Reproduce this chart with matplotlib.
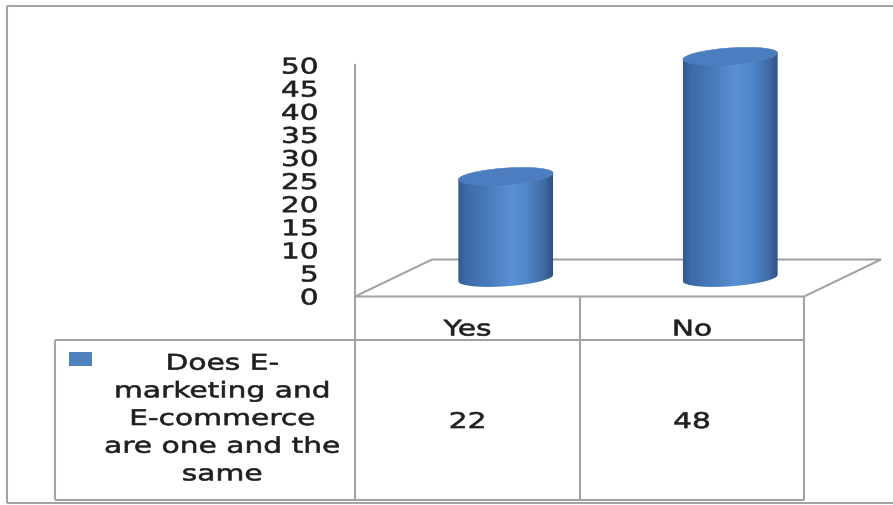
import numpy as np
import matplotlib
matplotlib.use("Agg")
import matplotlib.pyplot as plt
from matplotlib.patches import Polygon, Rectangle, Ellipse
from matplotlib.colors import LinearSegmentedColormap
from matplotlib import patheffects
from matplotlib.transforms import Affine2D

# ---- data -------------------------------------------------------------
categories = ["Yes", "No"]
values = [22, 48]
series_name = "Does E-\nmarketing and\nE-commerce\nare one and the\nsame"
y_ticks = [0, 5, 10, 15, 20, 25, 30, 35, 40, 45, 50]

# ---- style ------------------------------------------------------------
W, H = 893, 505
LINE = "#a3a3a3"
TXT = "#1f1f1f"
SERIES = "#4F81BD"
TOP_FACE = "#4b7dc0"
FS = 15.5
SX = 1.38                      # horizontal stretch of the lettering
DEPTH = (77.0, -37.0)          # oblique depth of the floor, pixels
R_CYL, B_CYL, TILT = 47.5, 8.3, 4.0

plt.rcParams["font.family"] = ["DejaVu Sans"]


class HStretch(patheffects.AbstractPathEffect):
    """Widen glyphs horizontally around a chosen anchor of each line,
    with a hairline stroke for slightly heavier lettering."""

    def __init__(self, sx, anchor="center", stroke=0.45):
        super().__init__()
        self.sx = sx
        self.anchor = anchor
        self.stroke = stroke

    def draw_path(self, renderer, gc, tpath, affine, rgbFace=None):
        v = tpath.vertices
        if len(v):
            x0, x1 = v[:, 0].min(), v[:, 0].max()
            a = {"left": x0, "center": 0.5 * (x0 + x1), "right": x1}[self.anchor]
        else:
            a = 0.0
        t = Affine2D().translate(-a, 0).scale(self.sx, 1).translate(a, 0)
        gc0 = renderer.new_gc()
        gc0.copy_properties(gc)
        gc0.set_linewidth(self.stroke)
        if rgbFace is not None:
            gc0.set_foreground(rgbFace)
        renderer.draw_path(gc0, tpath, t + affine, rgbFace)
        gc0.restore()


fig = plt.figure(figsize=(W / 100, H / 100), dpi=100)

# value axis on the front plane of the plot area
ax_l, ax_r, ax_zero, ax_top = 355, 804, 296.5, 65.5
ax = fig.add_axes([ax_l / W, 1 - ax_zero / H, (ax_r - ax_l) / W, (ax_zero - ax_top) / H])
ax.set_xlim(-0.5, len(categories) - 0.5)
ax.set_ylim(0, 50)
ax.patch.set_alpha(0)
for s in ("top", "right", "bottom"):
    ax.spines[s].set_visible(False)
ax.spines["left"].set_color(LINE)
ax.spines["left"].set_linewidth(1.5)
ax.set_xticks([])
ax.set_yticks(y_ticks)
ax.set_yticklabels([str(t) for t in y_ticks])
ax.tick_params(axis="y", length=0, pad=26.6, labelsize=FS, labelcolor=TXT)

# pixel-space overlay for floor, cylinders and data table
ov = fig.add_axes([0, 0, 1, 1], zorder=3)
ov.set_xlim(0, W)
ov.set_ylim(H, 0)
ov.axis("off")
ov.patch.set_alpha(0)
ov.set_autoscale_on(False)


def to_px(x, v):
    d = ax.transData.transform((x, v))
    return ov.transData.inverted().transform(d)


def seg(xs, ys, **kw):
    ov.plot(xs, ys, color=LINE, lw=1.5, solid_capstyle="butt", zorder=1, **kw)


# outer chart frame
seg([7, W], [6, 6])
seg([7, 7], [6, 503])
seg([7, W], [503, 503])

# floor
fl = to_px(-0.5, 0)
fr = to_px(len(categories) - 0.5, 0)
floor = [fl, fr, fr + DEPTH, fl + DEPTH]
ov.add_patch(Polygon(floor, closed=True, fc="white", ec=LINE, lw=1.5, zorder=1))

# cylinders
cmap = LinearSegmentedColormap.from_list(
    "cyl",
    [(0.0, "#31598f"), (0.08, "#3d69a5"), (0.3, "#497aba"), (0.56, "#5b90d6"),
     (0.72, "#5087cb"), (0.9, "#416ca6"), (1.0, "#2e5283")],
)
grad = cmap(np.linspace(0, 1, 256))[None, :, :]
phi = np.radians(TILT)
u = np.array([np.cos(phi), -np.sin(phi)])
w = np.array([np.sin(phi), np.cos(phi)])


def ell(c, t):
    return c + R_CYL * np.cos(t)[:, None] * u + B_CYL * np.sin(t)[:, None] * w


half = DEPTH[0] / 2, DEPTH[1] / 2
for i, val in enumerate(values):
    cb = to_px(i, 0) + half
    ct = to_px(i, val) + half
    t = np.linspace(np.pi, 0, 60)
    # body runs from the front of the base up to the centre line of the top
    body_pts = np.vstack([ell(cb, t), ell(ct, np.array([0.0])), ell(ct, np.array([np.pi]))])
    body = Polygon(body_pts, closed=True, fc="none", ec="none", zorder=4)
    ov.add_patch(body)
    im = ov.imshow(grad, extent=[cb[0] - R_CYL, cb[0] + R_CYL, cb[1] + B_CYL + 2, ct[1] - B_CYL - 2],
                   aspect="auto", interpolation="bilinear", zorder=4)
    im.set_clip_path(body)
    ov.add_patch(Ellipse(ct, 2 * R_CYL, 2 * B_CYL, angle=-TILT, fc=TOP_FACE, ec=TOP_FACE,
                         lw=0.4, zorder=5))

# data table
x_cols = [to_px(k - 0.5, 0)[0] for k in range(len(categories) + 1)]
y_top = fl[1]
y_hdr, y_bot, x_leg = 340, 500, 55
seg([x_cols[0], x_cols[0]], [y_top, y_bot])
for xc in x_cols[1:]:
    seg([xc, xc], [y_top, y_bot])
seg([x_leg, x_cols[-1]], [y_hdr, y_hdr])
seg([x_leg, x_cols[-1]], [y_bot, y_bot])
seg([x_leg, x_leg], [y_hdr, y_bot])

texts = []
for i, (cat, val) in enumerate(zip(categories, values)):
    xc = 0.5 * (x_cols[i] + x_cols[i + 1])
    texts.append(ov.text(xc, 335.5, cat, ha="center", va="baseline", fontsize=FS, color=TXT))
    texts.append(ov.text(xc, 428, str(val), ha="center", va="baseline", fontsize=FS, color=TXT))

ov.add_patch(Rectangle((69, 352), 23, 14, fc=SERIES, ec="none", zorder=2))
texts.append(ov.text(222, 419, series_name, ha="center", va="center", fontsize=FS,
                     color=TXT, linespacing=1.48, multialignment="center"))

for tx in texts:
    tx.set_path_effects([HStretch(SX, "center")])

fig.canvas.draw()
for lbl in ax.get_yticklabels():
    lbl.set_path_effects([HStretch(SX, "right")])

fig.savefig("out.png", dpi=100)
